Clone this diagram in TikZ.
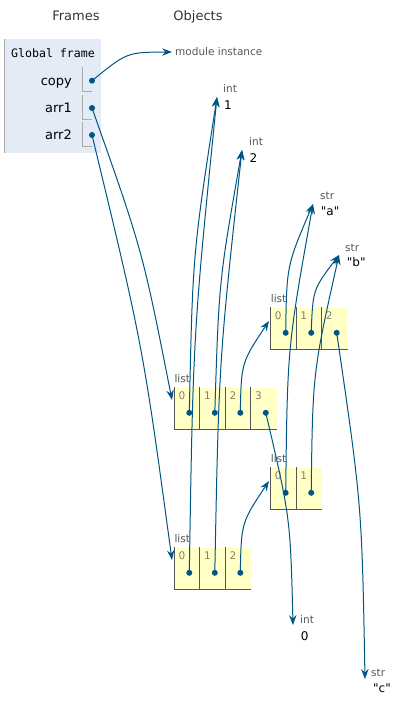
\documentclass[tikz,border=0pt]{standalone}
\usepackage{fontspec}
\setmainfont{DejaVu Sans}
\newfontfamily\framemono{DejaVu Sans Mono}
\newfontfamily\valfont{DejaVu Sans}
\usetikzlibrary{calc,arrows.meta}
\definecolor{ptrblue}{HTML}{005583}
\definecolor{framebg}{HTML}{E2EBF6}
\definecolor{framebd}{HTML}{AAAAAA}
\definecolor{listbg}{HTML}{FFFFC6}
\definecolor{listbd}{HTML}{555555}
\definecolor{typegray}{HTML}{555555}
\definecolor{idxcol}{HTML}{8C7D6B}
\definecolor{headcol}{HTML}{333333}

\newcommand\pointerto[3]{\draw[ptr] (#1) .. controls ($(#1)!0.5!(#2)!#3!90:(#2)$) .. (#2);}

\newcommand\heaplist[4]{%
  \node[tlabel] (#1lbl) at ($(#2,#3)+(0,-4.5)$) {list};
  \foreach \i in {0,...,#4}{%
    \node[cell] (#1c\i) at ($(#2,#3)+(\i*25.5,0)$) {};
    \draw[cellline] (#1c\i.north west) -- (#1c\i.south west) -- (#1c\i.south east);
    \node[idx] (#1i\i) at ($(#1c\i.north west)+(4,12)$) {\i};
    \node[dot] (#1d\i) at ($(#1c\i.north west)+(15,25.5)$) {};
  }%
}

\begin{document}
\begin{tikzpicture}[x=1pt,y=-1pt,
  ptr/.style={draw=ptrblue, line width=1pt, -{Stealth[length=10pt,width=7.5pt,inset=3.5pt]}},
  dot/.style={circle, fill=ptrblue, inner sep=0pt, minimum size=6pt},
  tlabel/.style={anchor=base west, inner sep=0pt, font=\fontsize{10.5}{12}\selectfont, text=typegray},
  val/.style={anchor=base west, inner sep=0pt, font=\fontsize{12}{14}\selectfont\valfont, text=black},
  head/.style={anchor=base, inner sep=0pt, font=\fontsize{13}{15}\selectfont, text=headcol},
  varname/.style={anchor=base east, inner sep=0pt, font=\fontsize{13}{15}\selectfont, text=black},
  cell/.style={anchor=north west, fill=listbg, minimum width=25.5pt, minimum height=42pt, inner sep=0pt},
  cellline/.style={draw=listbd, line width=1.2pt},
  idx/.style={anchor=base west, inner sep=0pt, font=\fontsize{10.5}{12}\selectfont, text=idxcol},
  vcell/.style={draw=framebd, line width=0.9pt},
]
\useasboundingbox (0,0) rectangle (410,711);

% headers
\node[head] (hframes) at (76,20.7) {Frames};
\node[head] (hobjects) at (198,20.7) {Objects};

% global frame
\node[anchor=north west, fill=framebg, minimum width=97pt, minimum height=114pt, inner sep=0pt] (gf) at (4,39) {};
\draw[draw=framebd, line width=1pt] ([xshift=0.5pt]gf.north west) -- ([xshift=0.5pt]gf.south west);
\node[anchor=base, inner sep=0pt, font=\fontsize{11.6}{13}\selectfont\framemono] (gflbl) at (53,57.3) {Global frame};

\node[varname] (vcopy) at (72,85.7) {copy};
\node[varname] (varr1) at (72,113) {arr1};
\node[varname] (varr2) at (72,140) {arr2};

\node[dot] (cpy) at (92,80.7) {};
\node[dot] (ar1) at (92,108) {};
\node[dot] (ar2) at (92,135) {};
\foreach \v in {cpy,ar1,ar2}{
  \draw[vcell] ($(\v)+(-10,-13.3)$) -- ($(\v)+(-10,11)$) -- ($(\v)+(0,11)$);
}

% objects: primitives
\node[tlabel] (modlbl) at (175,55.5) {module instance};
\node[tlabel] (int1lbl) at (223,92.7) {int};
\node[val] (int1val) at (224,109.3) {1};
\node[tlabel] (int2lbl) at (249,146) {int};
\node[val] (int2val) at (249.5,163) {2};
\node[tlabel] (stralbl) at (320,199.5) {str};
\node[val] (straval) at (320.7,215) {"a"};
\node[tlabel] (strblbl) at (345,251) {str};
\node[val] (strbval) at (346.7,266) {"b"};
\node[tlabel] (int0lbl) at (300,623.3) {int};
\node[val] (int0val) at (300.7,640) {0};
\node[tlabel] (strclbl) at (371,676) {str};
\node[val] (strcval) at (373,692) {"c"};

% lists
\heaplist{C}{270.7}{307.3}{2}
\heaplist{A}{174.3}{387.3}{3}
\heaplist{D}{270.7}{467.3}{1}
\heaplist{B}{174.3}{547.3}{2}

% arrow targets
\coordinate (modtip) at (172,52);
\coordinate (int1tip) at (217,97);
\coordinate (int2tip) at (242,150);
\coordinate (stratip) at (313,204);
\coordinate (strbtip) at (339,255);
\coordinate (int0tip) at (293,625);
\coordinate (strctip) at (365,679);
\coordinate (Atip) at (172,400);
\coordinate (Btip) at (172,560);
\coordinate (Ctip) at (269,321);
\coordinate (Dtip) at (269,481);

% pointers
\pointerto{cpy.center}{modtip}{15pt}
\pointerto{ar1.center}{Atip}{11pt}
\pointerto{ar2.center}{Btip}{11pt}
\pointerto{Ad0.center}{int1tip}{10.5pt}
\pointerto{Bd0.center}{int1tip}{10pt}
\pointerto{Ad1.center}{int2tip}{9.5pt}
\pointerto{Bd1.center}{int2tip}{9.5pt}
\pointerto{Ad2.center}{Ctip}{14pt}
\pointerto{Bd2.center}{Dtip}{14pt}
\pointerto{Ad3.center}{int0tip}{11pt}
\pointerto{Cd0.center}{stratip}{13pt}
\pointerto{Cd1.center}{strbtip}{13pt}
\pointerto{Cd2.center}{strctip}{11pt}
\pointerto{Dd0.center}{stratip}{12pt}
\pointerto{Dd1.center}{strbtip}{12.5pt}
\end{tikzpicture}
\end{document}
